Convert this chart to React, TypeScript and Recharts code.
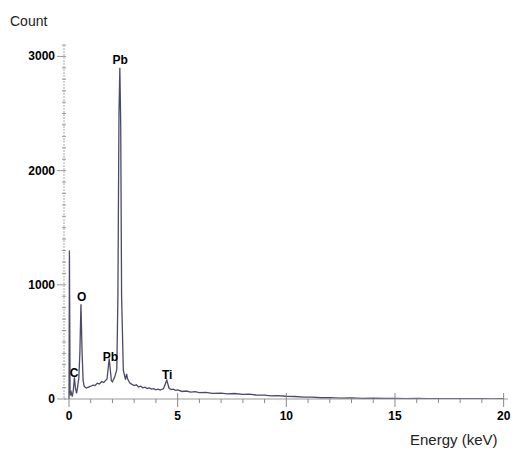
import React from "react";
import { LineChart, Line, XAxis, YAxis, ReferenceDot } from "recharts";

const energy = [
  0, 0.02, 0.05, 0.1, 0.15, 0.2, 0.25, 0.3, 0.35, 0.4, 0.45, 0.5, 0.55, 0.6, 0.65, 0.7,
  0.8, 0.9, 1.0, 1.1, 1.2, 1.3, 1.4, 1.5, 1.6, 1.7, 1.75, 1.85, 1.95, 2.0, 2.05, 2.1,
  2.2, 2.25, 2.3, 2.34, 2.38, 2.42, 2.5, 2.6, 2.65, 2.7, 2.8, 2.9, 3.0, 3.1, 3.2, 3.3,
  3.4, 3.5, 3.6, 3.7, 3.8, 3.9, 4.0, 4.1, 4.2, 4.35, 4.5, 4.6, 4.7, 4.8, 4.9, 5.0,
  5.2, 5.4, 5.6, 5.8, 6.0, 6.3, 6.6, 7.0, 7.3, 7.6, 8.0, 8.3, 8.6, 9.0, 9.3, 9.6,
  10.0, 10.4, 10.8, 11.2, 11.6, 12.0, 12.5, 13.0, 13.5, 14.0, 14.5, 15.0, 15.5, 16.0,
  16.5, 17.0, 17.5, 18.0, 18.5, 19.0, 19.5, 20.0,
];
const counts = [
  0, 1300, 30, 60, 20, 80, 190, 90, 50, 110, 180, 400, 830, 420, 160, 110,
  96, 104, 112, 122, 118, 138, 132, 152, 144, 165, 175, 355, 160, 150, 172, 190,
  260, 900, 2500, 2900, 2400, 900, 250, 170, 220, 175, 140, 128, 118, 124, 106, 112,
  98, 104, 92, 97, 86, 90, 80, 86, 78, 92, 165, 96, 82, 86, 76, 80,
  66, 70, 60, 64, 56, 58, 50, 52, 45, 48, 40, 43, 35, 34, 28, 30,
  24, 22, 16, 17, 11, 12, 8, 10, 6, 7, 5, 6, 4, 5,
  3, 4, 2, 3, 2, 3, 1, 2,
];

const peakLabels = ["Pb", "O", "C", "Pb", "Ti"];
const peakLabelEnergy = [2.35, 0.58, 0.23, 1.91, 4.52];
const peakLabelCount = [2968, 898, 228, 372, 215];

const yTicks = [
  0, 100, 200, 300, 400, 500, 600, 700, 800, 900, 1000, 1100, 1200, 1300, 1400, 1500,
  1600, 1700, 1800, 1900, 2000, 2100, 2200, 2300, 2400, 2500, 2600, 2700, 2800, 2900,
  3000, 3100,
];
const yMajor = [0, 1000, 2000, 3000];
const xTicks = [0, 1, 2, 3, 4, 5, 6, 7, 8, 9, 10, 11, 12, 13, 14, 15, 16, 17, 18, 19, 20];
const xMajor = [0, 5, 10, 15, 20];

const data = energy.map((e, i) => ({ e, c: counts[i] }));

const FONT = "'Liberation Sans', Arial, sans-serif";

const YTick = (props: any) => {
  const { x, y, payload } = props;
  const major = yMajor.includes(payload.value);
  return (
    <g>
      <line x1={x - (major ? 7 : 2)} x2={x + 2} y1={y} y2={y} stroke="#999" strokeWidth={1} />
      {major && (
        <text x={x - 9} y={y} textAnchor="end" dominantBaseline="central" fontSize={12} fontWeight="bold" fill="#000" fontFamily={FONT}>
          {payload.value}
        </text>
      )}
    </g>
  );
};

const XTick = (props: any) => {
  const { x, y, payload } = props;
  const major = xMajor.includes(payload.value);
  return (
    <g>
      <line x1={x} x2={x} y1={major ? y - 6 : y} y2={y + (major ? 8 : 4)} stroke="#888" strokeWidth={1} />
      {major && (
        <text x={x} y={y + 17} textAnchor="middle" dominantBaseline="central" fontSize={12} fontWeight="bold" fill="#000" fontFamily={FONT}>
          {payload.value}
        </text>
      )}
    </g>
  );
};

export default function App() {
  return (
    <div style={{ position: "absolute", left: 0, top: 0, width: 517, height: 457, background: "#fff" }}>
      <div style={{ position: "absolute", left: 10, top: 13, fontSize: 14, fontFamily: FONT, color: "#222" }}>Count</div>
      <div style={{ position: "absolute", left: 410, top: 431, fontSize: 15, fontFamily: FONT, color: "#222" }}>Energy (keV)</div>
      <LineChart width={517} height={457} data={data} margin={{ top: 45, right: 9, bottom: 28, left: 0 }}>
        <XAxis
          dataKey="e"
          type="number"
          domain={[-0.23, 20.2]}
          allowDataOverflow
          ticks={xTicks}
          interval={0}
          tickSize={0}
          tickMargin={0}
          tickLine={false}
          tick={<XTick />}
          stroke="#999"
          height={30}
        />
        <YAxis
          type="number"
          domain={[0, 3100]}
          allowDataOverflow
          ticks={yTicks}
          interval={0}
          tickSize={0}
          tickMargin={0}
          tickLine={false}
          tick={<YTick />}
          stroke="#aaa"
          strokeDasharray="2 1"
          width={64}
        />
        <Line
          dataKey="c"
          type="linear"
          stroke="#4a4a6a"
          strokeWidth={1.3}
          dot={false}
          isAnimationActive={false}
        />
        {peakLabels.map((l, i) => (
          <ReferenceDot
            key={i}
            x={peakLabelEnergy[i]}
            y={peakLabelCount[i]}
            r={0}
            fill="none"
            stroke="none"
            label={{ value: l, position: "center", fontSize: 12, fontWeight: "bold", fill: "#000", fontFamily: FONT }}
          />
        ))}
      </LineChart>
    </div>
  );
}
